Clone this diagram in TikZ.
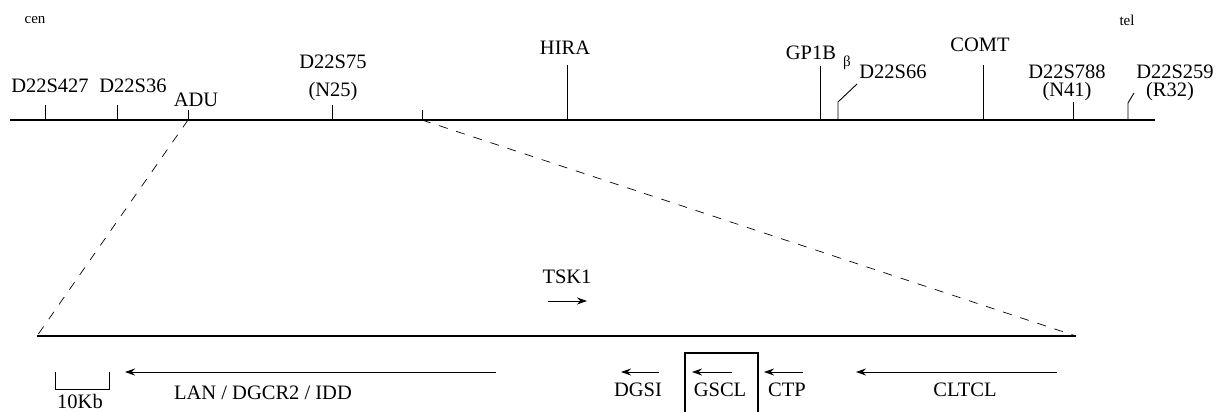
\documentclass[tikz,border=0pt]{standalone}
\usepackage{fontspec}
\setmainfont{Liberation Serif}
\usetikzlibrary{arrows.meta}
\begin{document}
\begin{tikzpicture}[x=1pt,y=-1pt,
  lbl/.style={inner sep=0pt,font=\fontsize{20.5}{22}\selectfont},
  small/.style={inner sep=0pt,font=\fontsize{15}{16}\selectfont},
  tickln/.style={line width=0.9pt},
  mainln/.style={line width=1.3pt},
  zoomln/.style={line width=0.7pt,dash pattern=on 9pt off 9pt},
  genearrow/.style={line width=1pt,-{Stealth[length=10pt,width=7pt]}}]
\useasboundingbox (0,0) rectangle (1221,412);

% top chromosome line
\coordinate (L0) at (10,120);
\coordinate (L1) at (1155,120);
\draw[mainln] (L0) -- (L1);

\node[small] (cen) at (35,20) {cen};
\node[small] (tel) at (1127,20) {tel};

% markers
\coordinate (t1b) at (45,120);  \coordinate (t1t) at (45,105);
\draw[tickln] (t1b) -- (t1t);
\node[lbl] (d427) at (50,86) {D22S427};

\coordinate (t2b) at (117,120); \coordinate (t2t) at (117,105);
\draw[tickln] (t2b) -- (t2t);
\node[lbl] (d36) at (133,86) {D22S36};

\coordinate (adub) at (188,120); \coordinate (adut) at (188,110);
\draw[tickln] (adub) -- (adut);
\node[lbl] (adu) at (196,100) {ADU};

\coordinate (t3b) at (332,120); \coordinate (t3t) at (332,105);
\draw[tickln] (t3b) -- (t3t);
\node[lbl] (d75) at (333,62) {D22S75};
\node[lbl] (n25) at (333,92) {(N25)};

\coordinate (zb) at (422,120); \coordinate (zt) at (422,110);
\draw[tickln] (zb) -- (zt);

\coordinate (hirab) at (567,120); \coordinate (hirat) at (567,65);
\draw[tickln] (hirab) -- (hirat);
\node[lbl] (hira) at (565,48) {HIRA};

\coordinate (gpb) at (820,120); \coordinate (gpt) at (820,66);
\draw[tickln] (gpb) -- (gpt);
\node[lbl] (gp) at (811,53) {GP1B};
\node[small] (beta) at (847,63) {β};

\coordinate (s66b) at (838,120); \coordinate (s66m) at (838,102); \coordinate (s66t) at (857,84);
\draw[tickln] (s66b) -- (s66m) -- (s66t);
\node[lbl] (d66) at (893,72) {D22S66};

\coordinate (comtb) at (983,120); \coordinate (comtt) at (983,65);
\draw[tickln] (comtb) -- (comtt);
\node[lbl] (comt) at (980,45) {COMT};

\coordinate (s788b) at (1073,120); \coordinate (s788t) at (1073,102);
\draw[tickln] (s788b) -- (s788t);
\node[lbl] (d788) at (1067,72) {D22S788};
\node[lbl] (n41) at (1067,92) {(N41)};

\coordinate (s259b) at (1128,120); \coordinate (s259m) at (1128,103); \coordinate (s259t) at (1134,93);
\draw[tickln] (s259b) -- (s259m) -- (s259t);
\node[lbl] (d259) at (1175,72) {D22S259};
\node[lbl] (r32) at (1170,92) {(R32)};

% expanded region
\coordinate (B0) at (37,336);
\coordinate (B1) at (1076,336);
\draw[line width=1.7pt] (B0) -- (B1);
\draw[zoomln] (adub) -- (B0);
\draw[zoomln] (zb) -- (B1);

% TSK1
\node[lbl] (tsk) at (567,277) {TSK1};
\coordinate (tska) at (548,301); \coordinate (tskb) at (587,301);
\draw[genearrow] (tska) -- (tskb);

% scale bar
\coordinate (sb1) at (55,372); \coordinate (sb2) at (55,389);
\coordinate (sb3) at (109,389); \coordinate (sb4) at (109,372);
\draw[line width=0.9pt] (sb1) -- (sb2) -- (sb3) -- (sb4);
\node[lbl] (kb) at (80,401) {10Kb};

% genes
\coordinate (lana) at (496,372); \coordinate (lanb) at (125,372);
\draw[genearrow] (lana) -- (lanb);
\node[lbl] (lan) at (263,393) {LAN / DGCR2 / IDD};

\coordinate (dgsia) at (659,372); \coordinate (dgsib) at (621,372);
\draw[genearrow] (dgsia) -- (dgsib);
\node[lbl] (dgsi) at (638,390) {DGSI};

\coordinate (gscla) at (732,372); \coordinate (gsclb) at (692,372);
\draw[genearrow] (gscla) -- (gsclb);
\node[lbl] (gscl) at (720,390) {GSCL};

\coordinate (ctpa) at (803,372); \coordinate (ctpb) at (764,372);
\draw[genearrow] (ctpa) -- (ctpb);
\node[lbl] (ctp) at (787,390) {CTP};

\coordinate (cltcla) at (1057,372); \coordinate (cltclb) at (856,372);
\draw[genearrow] (cltcla) -- (cltclb);
\node[lbl] (cltcl) at (965,390) {CLTCL};

% box around GSCL
\coordinate (bx1) at (685,412); \coordinate (bx2) at (685,353);
\coordinate (bx3) at (758,353); \coordinate (bx4) at (758,412);
\draw[line width=1.3pt] (bx1) -- (bx2) -- (bx3) -- (bx4);
\end{tikzpicture}
\end{document}
